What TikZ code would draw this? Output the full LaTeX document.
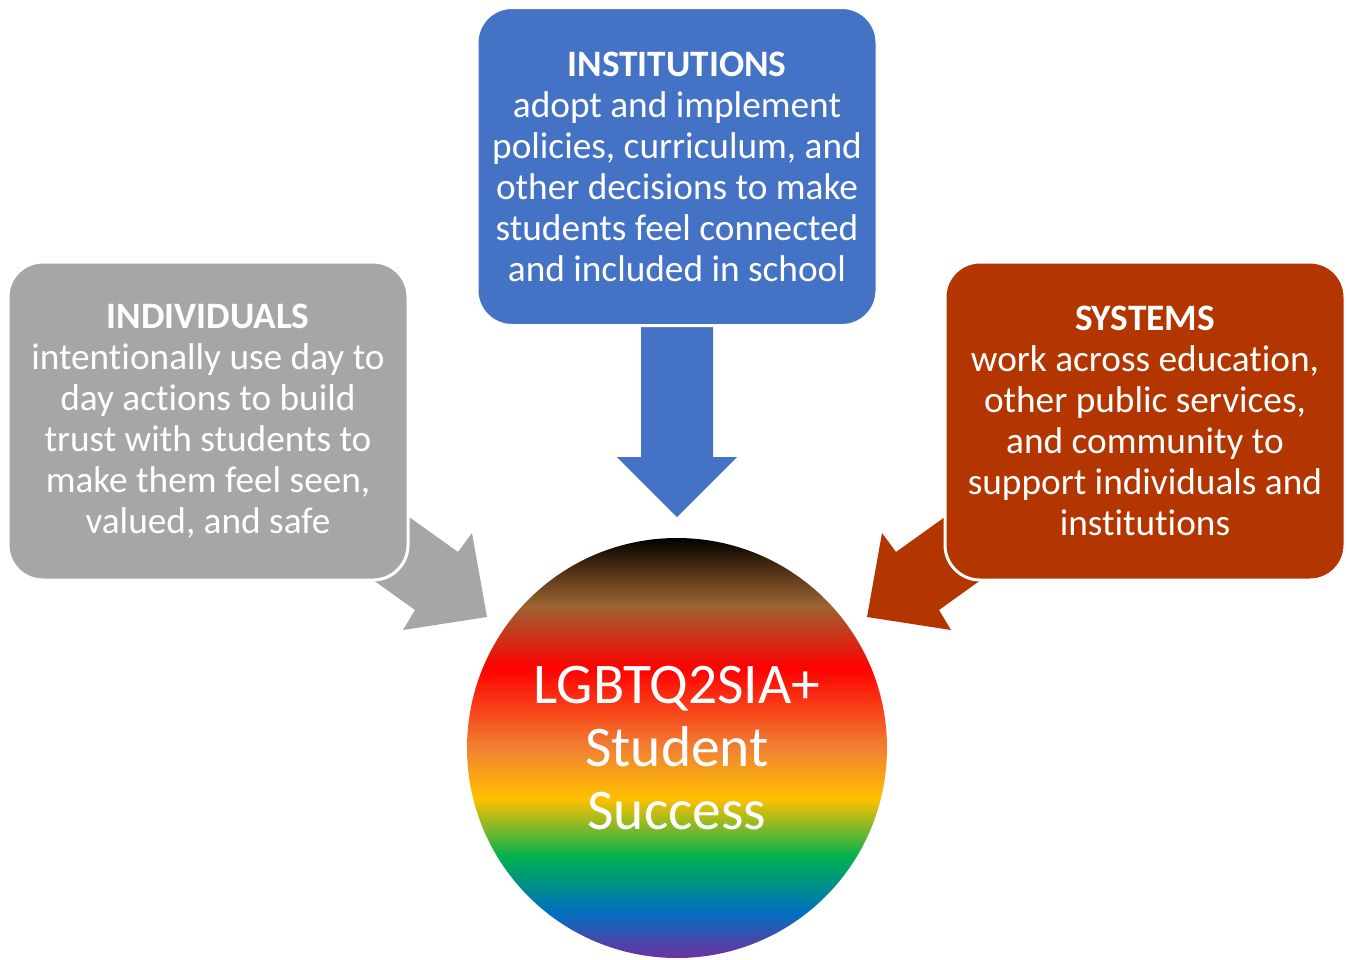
\documentclass[tikz,border=0pt]{standalone}
\usepackage{fontspec}
\setmainfont{Carlito}[RawFeature=-liga]
\definecolor{instblue}{HTML}{4472C4}
\definecolor{indgray}{HTML}{A6A6A6}
\definecolor{sysred}{HTML}{B33600}
\definecolor{rbbrownd}{HTML}{4A2C12}
\definecolor{rbbrown}{HTML}{9A6432}
\definecolor{rbred}{HTML}{FF0000}
\definecolor{rborange}{HTML}{F08232}
\definecolor{rbyellow}{HTML}{FFC000}
\definecolor{rbgreen}{HTML}{00B050}
\definecolor{rbblue}{HTML}{0070C0}
\definecolor{rbpurple}{HTML}{7030A0}
\pgfdeclareverticalshading{rainbow}{100bp}{%
  color(0bp)=(rbpurple); color(25bp)=(rbpurple); color(30.5bp)=(rbblue);
  color(37bp)=(rbgreen); color(44bp)=(rbyellow); color(50bp)=(rborange);
  color(59.5bp)=(rbred); color(67bp)=(rbbrown); color(71.5bp)=(rbbrownd);
  color(75bp)=(black); color(100bp)=(black)}
\tikzset{
  infobox/.style={rounded corners=35pt, draw=white, line width=3pt,
    minimum width=400pt, minimum height=318pt, inner sep=0pt, align=center,
    text=white, font=\fontsize{37.3}{41}\selectfont},
  blockarrow/.style={draw=none},
  corecircle/.style={circle, shading=rainbow, minimum size=420pt, inner sep=0pt,
    align=center, text=white, font=\fontsize{57.5}{63}\selectfont}
}
\begin{document}
\begin{tikzpicture}[x=1pt,y=-1pt]
\useasboundingbox (0,0) rectangle (1350,959);
% block arrows
\fill[instblue,blockarrow] (641,326)--(713,326)--(713,457)--(737,457)--(677,517)--(617,457)--(641,457)--cycle;
\fill[indgray,blockarrow] (377,494)--(458,552)--(472,533)--(487,617)--(403,630)--(415,610)--(334,552)--cycle;
\fill[sysred,blockarrow] (977,494)--(896,552)--(882,533)--(867,617)--(951,630)--(939,610)--(1020,552)--cycle;
% boxes
\node[infobox, fill=instblue] (inst) at (677,166.5)
  {\textbf{INSTITUTIONS}\\adopt and implement\\policies, curriculum, and\\other decisions to make\\students feel connected\\and included in school};
\node[infobox, fill=indgray] (indiv) at (208,421)
  {\textbf{INDIVIDUALS}\\intentionally use day to\\day actions to build\\trust with students to\\make them feel seen,\\valued, and safe};
\node[infobox, fill=sysred] (sys) at (1145,421)
  {\textbf{SYSTEMS}\\work across education,\\other public services,\\and community to\\support individuals and\\institutions};
% centre
\node[corecircle] (core) at (677,748) {LGBTQ2SIA+\\Student\\Success};
\end{tikzpicture}
\end{document}
